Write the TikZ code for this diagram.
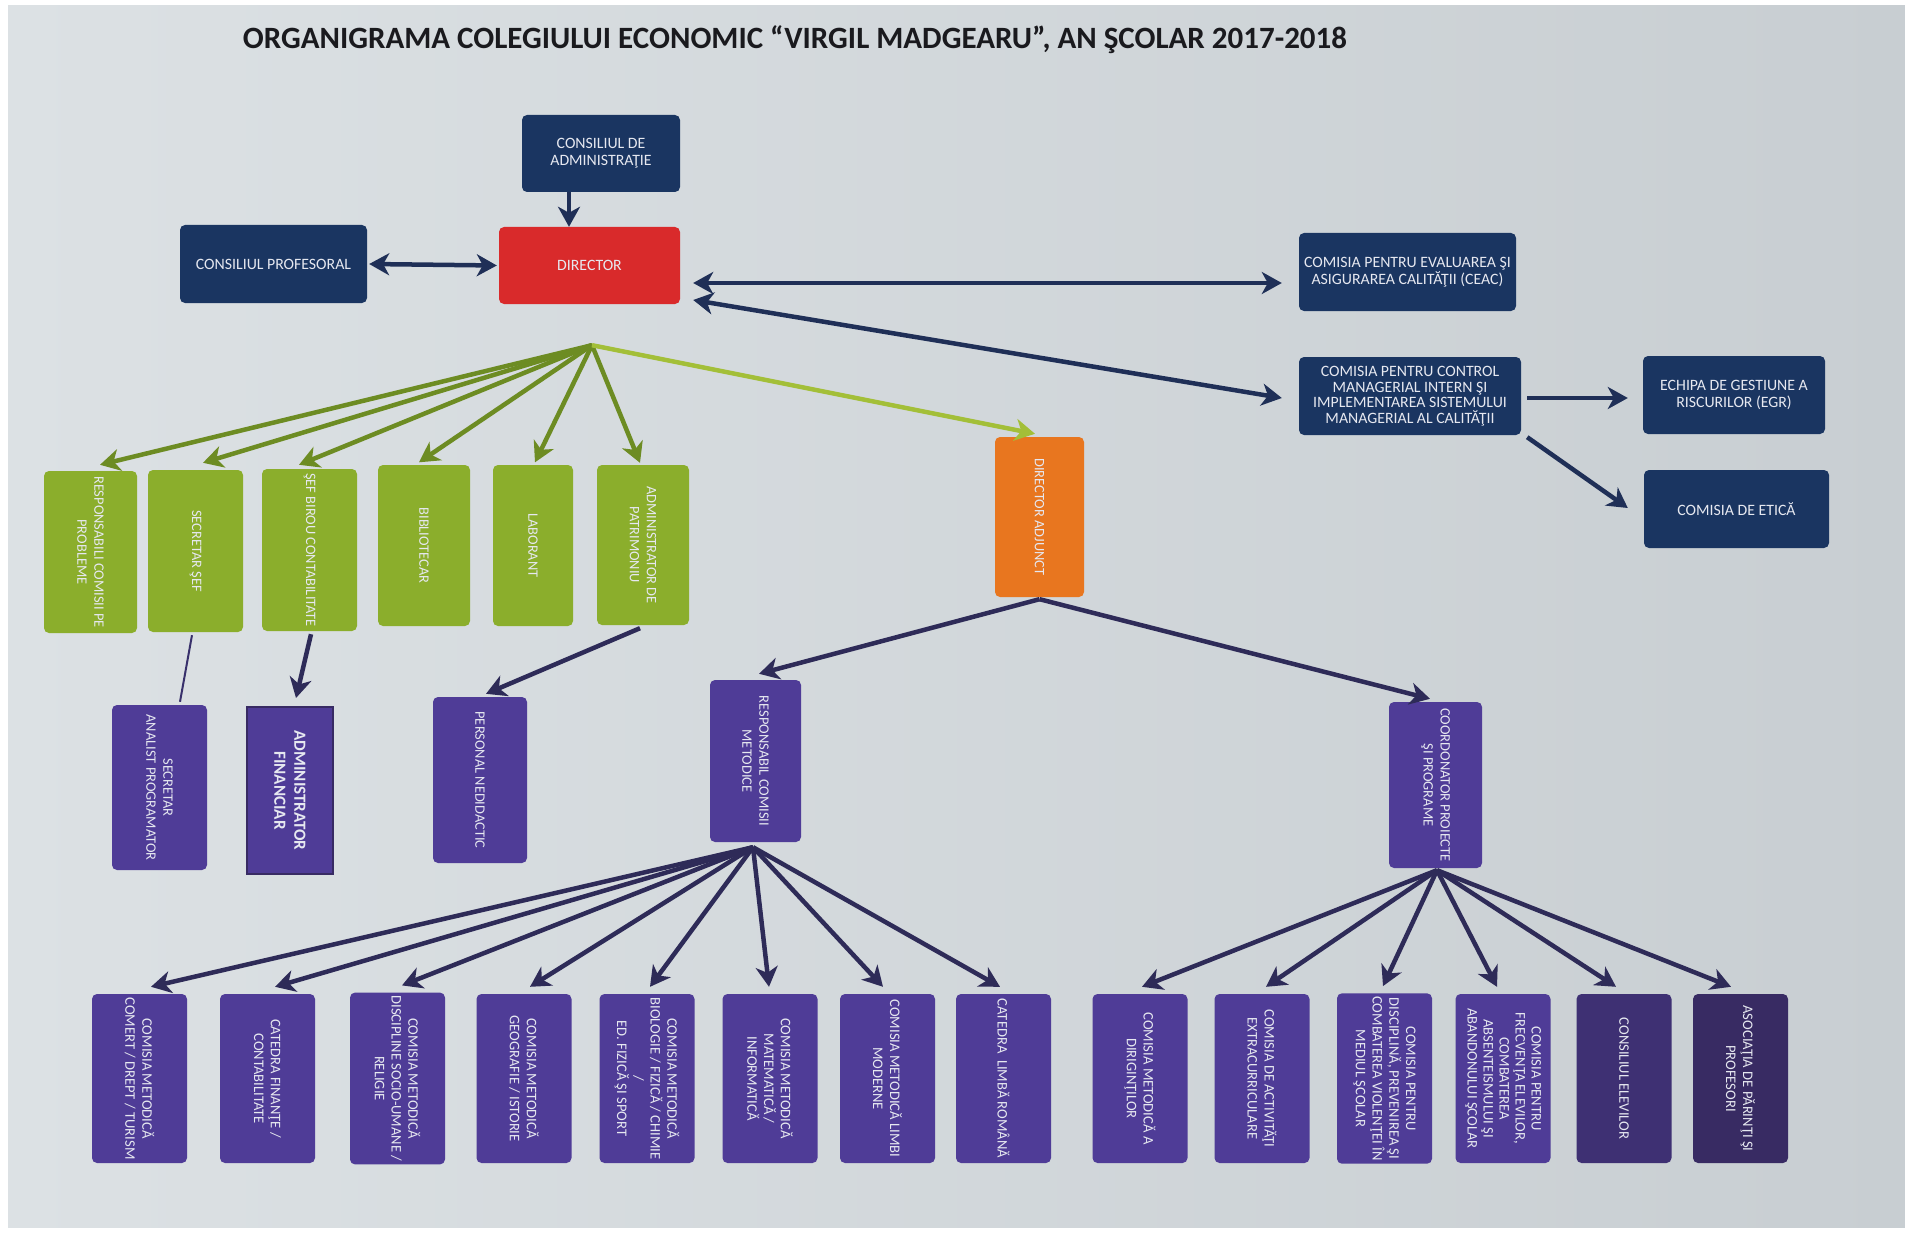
\documentclass[tikz,border=0pt]{standalone}
\usepackage{fontspec}
\setmainfont{Carlito}
\usetikzlibrary{arrows.meta,calc}
\definecolor{paperL}{HTML}{DCE1E4}
\definecolor{paperR}{HTML}{C8CED2}
\definecolor{navyc}{HTML}{1A3561}
\definecolor{redc}{HTML}{D92A2B}
\definecolor{greenc}{HTML}{8BAE2C}
\definecolor{orangec}{HTML}{E8761F}
\definecolor{purplec}{HTML}{4F3C97}
\definecolor{purpledk}{HTML}{3E3073}
\definecolor{purpledk2}{HTML}{382B63}
\definecolor{navyarr}{HTML}{1F2F57}
\definecolor{greenarr}{HTML}{6D8C23}
\definecolor{greenlt}{HTML}{A3BF38}
\definecolor{purparr}{HTML}{2E2B58}
\definecolor{boxtext}{HTML}{E6E8F0}
\definecolor{titlecol}{HTML}{1A1A1E}
\tikzset{
  bigtip/.tip={Stealth[length=20pt,width=22pt,inset=6pt]},
  hbox/.style={rounded corners=5pt, text=boxtext, align=center, inner sep=3pt,
    font=\fontsize{15.8}{17}\selectfont},
  vbox/.style={hbox, rotate=-90, font=\fontsize{14.4}{17}\selectfont},
  navybox/.style={hbox, fill=navyc},
  greenbox/.style={vbox, fill=greenc},
  purplebox/.style={vbox, fill=purplec},
  navyline/.style={draw=navyarr, line width=4.5pt},
  greenline/.style={draw=greenarr, line width=4.5pt, -bigtip},
  purpline/.style={draw=purparr, line width=4.5pt, -bigtip},
}
\begin{document}
\begin{tikzpicture}[x=1pt,y=-1pt]
\useasboundingbox (0,0) rectangle (1905,1233);
\fill[white] (0,0) rectangle (1905,1233);
\shade[left color=paperL, right color=paperR] (8,6) rectangle (1905,1227);

\node[font=\fontsize{31}{34}\selectfont\bfseries, text=titlecol] (title) at (795,40)
  {ORGANIGRAMA COLEGIULUI ECONOMIC “VIRGIL MADGEARU”, AN ŞCOLAR 2017-2018};

% top navy boxes
\node[navybox, minimum width=158pt, minimum height=77pt] (cda) at (601,153.5) {CONSILIUL DE\\ADMINISTRAŢIE};
\node[hbox, fill=redc, minimum width=181pt, minimum height=77pt] (director) at (589.5,265.5) {DIRECTOR};
\node[navybox, minimum width=187pt, minimum height=78pt] (cp) at (273.5,264) {CONSILIUL PROFESORAL};
\node[navybox, minimum width=217pt, minimum height=78pt] (ceac) at (1407.5,272) {COMISIA PENTRU EVALUAREA ŞI\\ASIGURAREA CALITĂŢII (CEAC)};
\node[navybox, minimum width=222pt, minimum height=78pt, font=\fontsize{15.8}{15.5}\selectfont] (cmi) at (1410,396) {COMISIA PENTRU CONTROL\\MANAGERIAL INTERN ŞI\\IMPLEMENTAREA SISTEMULUI\\MANAGERIAL AL CALITĂŢII};
\node[navybox, minimum width=182pt, minimum height=78pt] (egr) at (1734,395) {ECHIPA DE GESTIUNE A\\RISCURILOR (EGR)};
\node[navybox, minimum width=185pt, minimum height=78pt] (etica) at (1736.5,509) {COMISIA DE ETICĂ};

% green boxes (rotated: minimum width = vertical length)
\node[greenbox, minimum width=162pt, minimum height=93pt] (g1) at (90.5,552) {RESPONSABILI COMISII PE\\PROBLEME};
\node[greenbox, minimum width=162pt, minimum height=95pt] (g2) at (195.5,551) {SECRETAR ŞEF};
\node[greenbox, minimum width=162pt, minimum height=95pt] (g3) at (309.5,550) {ŞEF BIROU CONTABILITATE};
\node[greenbox, minimum width=161pt, minimum height=92pt] (g4) at (424,545.5) {BIBLIOTECAR};
\node[greenbox, minimum width=161pt, minimum height=80pt] (g5) at (533,545.5) {LABORANT};
\node[greenbox, minimum width=160pt, minimum height=92pt] (g6) at (643,545) {ADMINISTRATOR DE\\PATRIMONIU};
\node[vbox, fill=orangec, minimum width=160pt, minimum height=89pt] (adj) at (1039.5,517) {DIRECTOR ADJUNCT};

% second purple row
\node[purplebox, minimum width=165pt, minimum height=95pt] (p1) at (159.5,787.5) {SECRETAR\\ANALIST PROGRAMATOR};
\node[purplebox, rounded corners=0pt, draw=purpledk2, line width=2pt, minimum width=167pt, minimum height=86pt,
  font=\fontsize{17}{20}\selectfont\bfseries] (p2) at (290,790.5) {ADMINISTRATOR\\FINANCIAR};
\node[purplebox, minimum width=166pt, minimum height=94pt] (p3) at (480,780) {PERSONAL NEDIDACTIC};
\node[purplebox, minimum width=162pt, minimum height=91pt] (p4) at (755.5,761) {RESPONSABIL COMISII\\METODICE};
\node[purplebox, minimum width=166pt, minimum height=93pt] (p5) at (1435.5,785) {COORDONATOR PROIECTE\\ŞI PROGRAME};

% bottom row
\tikzset{brow/.style={purplebox, minimum width=169pt, minimum height=95pt, font=\fontsize{14.6}{16.8}\selectfont}}
\node[brow] (b1) at (139.5,1078.5) {COMISIA METODICĂ\\COMERT / DREPT / TURISM};
\node[brow] (b2) at (267.5,1078.5) {CATEDRA FINANŢE /\\CONTABILITATE};
\node[brow] (b3) at (397.5,1078.5) {COMISIA METODICĂ\\DISCIPLINE SOCIO-UMANE /\\RELIGIE};
\node[brow] (b4) at (524,1078.5) {COMISIA METODICĂ\\GEOGRAFIE / ISTORIE};
\node[brow] (b5) at (647,1078.5) {COMISIA METODICĂ\\BIOLOGIE / FIZICĂ / CHIMIE\\/\\ED. FIZICĂ ŞI SPORT};
\node[brow] (b6) at (770,1078.5) {COMISIA METODICĂ\\MATEMATICĂ /\\INFORMATICĂ};
\node[brow] (b7) at (887.5,1078.5) {COMISIA METODICĂ LIMBI\\MODERNE};
\node[brow] (b8) at (1003.5,1078.5) {CATEDRA\ \ LIMBĂ ROMÂNĂ};
\node[brow] (b9) at (1140,1078.5) {COMISIA METODICĂ A\\DIRIGINŢILOR};
\node[brow] (b10) at (1262,1078.5) {COMISIA DE ACTIVITĂŢI\\EXTRACURRICULARE};
\node[brow] (b11) at (1384.5,1078.5) {COMISIA PENTRU\\DISCIPLINĂ, PREVENIREA ŞI\\COMBATEREA VIOLENŢEI ÎN\\MEDIUL ŞCOLAR};
\node[brow, font=\fontsize{14.6}{16}\selectfont] (b12) at (1503,1078.5) {COMISIA PENTRU\\FRECVENŢA ELEVILOR,\\COMBATEREA\\ABSENTEISMULUI ŞI\\ABANDONULUI ŞCOLAR};
\node[brow, fill=purpledk] (b13) at (1624,1078.5) {CONSILIUL ELEVILOR};
\node[brow, fill=purpledk2] (b14) at (1740.5,1078.5) {ASOCIAŢIA DE PĂRINŢI ŞI\\PROFESORI};

% navy connectors
\draw[navyline, -bigtip] ([xshift=-32pt]cda.south) -- ([xshift=-32pt]cda.south |- director.north);
\draw[navyline, bigtip-bigtip] ($(cp.east)+(2,0)$) -- ($(director.west)+(-2,0)$);
\draw[navyline, bigtip-bigtip] ($(director.east)+(13,17.5)$) -- ($(ceac.west)+(-17,11)$);
\draw[navyline, bigtip-bigtip] ($(director.east)+(13,34.5)$) -- ($(cmi.west)+(-17,2)$);
\draw[navyline, -bigtip] ($(cmi.east)+(6,2)$) -- ($(egr.west)+(-15,3)$);
\draw[navyline, -bigtip] ($(cmi.south east)+(6,2)$) -- ($(etica.west)+(-16,-1)$);

% green connectors
\coordinate (gsrc) at ($(director.south)+(2.5,41)$);
\draw[greenline] (gsrc) -- ($(g1.west)+(9.5,-6)$);
\draw[greenline] (gsrc) -- ($(g2.west)+(7.5,-7)$);
\draw[greenline] (gsrc) -- ($(g3.west)+(-10.5,-4)$);
\draw[greenline] (gsrc) -- ($(g4.west)+(-5,-2.5)$);
\draw[greenline] (gsrc) -- ($(g5.west)+(2,-2.5)$);
\draw[greenline] (gsrc) -- ($(g6.west)+(-3,-2)$);
\draw[greenline, draw=greenlt] (gsrc) -- ($(adj.west)+(-4.5,-3)$);

% second row connectors
\draw[draw=purparr!70!purplec, line width=2pt] ($(g2.east)+(-3.5,3)$) -- ($(p1.west)+(20.5,-3)$);
\draw[purpline] ($(g3.east)+(1.5,3)$) -- ($(p2.west)+(6,-8)$);
\draw[purpline] ($(g6.east)+(-3,3)$) -- ($(p3.west)+(6,-3)$);
\draw[purpline] ($(adj.east)+(0,2)$) -- ($(p4.west)+(3.5,-6)$);
\draw[purpline] ($(adj.east)+(0,2)$) -- ($(p5.west)+(-5.5,-3)$);

% bottom connectors
\coordinate (src1) at ($(p4.east)+(-2.5,5)$);
\coordinate (src2) at ($(p5.east)+(1.5,2)$);
\draw[purpline] (src1) -- ($(b1.west)+(11.5,-7)$);
\draw[purpline] (src1) -- ($(b2.west)+(7.5,-7)$);
\draw[purpline] (src1) -- ($(b3.west)+(4.5,-7)$);
\draw[purpline] (src1) -- ($(b4.west)+(6,-7)$);
\draw[purpline] (src1) -- ($(b5.west)+(3,-7)$);
\draw[purpline] (src1) -- ($(b6.west)+(-1,-7)$);
\draw[purpline] (src1) -- ($(b7.west)+(-4.5,-7)$);
\draw[purpline] (src1) -- ($(b8.west)+(-3.5,-7)$);
\draw[purpline] (src2) -- ($(b9.west)+(2,-7)$);
\draw[purpline] (src2) -- ($(b10.west)+(4,-7)$);
\draw[purpline] (src2) -- ($(b11.west)+(-1.5,-7)$);
\draw[purpline] (src2) -- ($(b12.west)+(-6,-7)$);
\draw[purpline] (src2) -- ($(b13.west)+(-8,-7)$);
\draw[purpline] (src2) -- ($(b14.west)+(-9.5,-7)$);
\end{tikzpicture}
\end{document}
